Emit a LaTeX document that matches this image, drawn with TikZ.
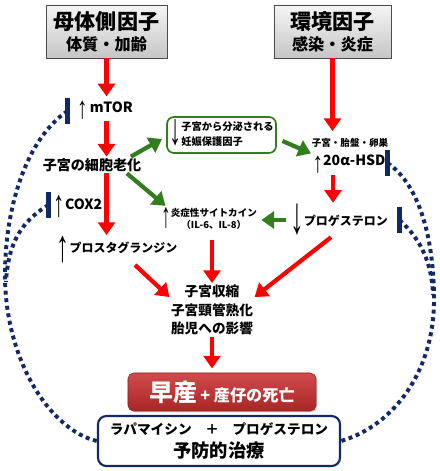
\documentclass[tikz,border=0pt]{standalone}
\usepackage{fontspec}
\setmainfont{Noto Sans CJK JP}
\newfontfamily\arrowfont{Liberation Sans}
\usetikzlibrary{arrows.meta,shadows}
\definecolor{navy}{RGB}{20,40,100}
\definecolor{leaf}{RGB}{50,125,30}
\definecolor{boxred}{RGB}{200,45,45}
\newcommand{\fs}[1]{\fontsize{#1}{#1}\selectfont}
% fleche fine : taille, etirement, abaissement
\newcommand{\up}[3]{\raisebox{-#3}{\scalebox{1.15}[#2]{\arrowfont\fs{#1}↑}}}
\newcommand{\down}[3]{\raisebox{-#3}{\scalebox{1.15}[#2]{\arrowfont\fs{#1}↓}}}
\begin{document}
\begin{tikzpicture}[x=0.025cm, y=-0.025cm, font=\bfseries,
	factor/.style={draw=gray!60!black, top color=gray!8, bottom color=gray!45, minimum width=#1, minimum height=1.325cm, align=center, inner sep=2pt, drop shadow={opacity=0.35, shadow xshift=1pt, shadow yshift=-1pt}},
	redarrow/.style={-{Triangle[width=12pt,length=9pt]}, red, line width=3pt},
	greenarrow/.style={-{Triangle[width=12pt,length=9pt]}, leaf, line width=3pt},
	inhib/.style={navy, line width=3pt},
	feedback/.style={navy, line width=2.8pt, dash pattern=on 2.8pt off 2.6pt},
	lbl/.style={inner sep=1pt}]
	\useasboundingbox[fill=white] (0,0) rectangle (439,471);
	% facteurs
	\node[factor=3.025cm] (mother) at (106.5,31.5) {{\fs{15}母体側因子}\\[3pt]{\fs{11.5}体質・加齢}};
	\node[factor=2.925cm] (env) at (332.5,31.5) {{\fs{15}環境因子}\\[3pt]{\fs{11.5}感染・炎症}};
	% colonne gauche
	\node[lbl] (mtor) at (105,110) {\up{13}{1.7}{4pt}\,{\fs{10}mTOR}};
	\node[lbl] (senes) at (92,165) {\fs{10}子宮の細胞老化};
	\node[lbl] (cox) at (78,207) {\up{14}{1.9}{5.5pt}{\fs{10}COX2}};
	\node[lbl] (prosta) at (117,250) {\up{16}{2}{6.8pt}{\fs{8.5}プロスタグランジン}};
	% colonne droite
	\node[lbl] (organ) at (350,143) {\fs{6.8}子宮・胎盤・卵巣};
	\node[lbl] (hsd) at (349,164) {\up{13}{1.6}{4.5pt}{\fs{10}20α-HSD}};
	\node[lbl] (prog) at (339,220) {\down{17}{2.2}{5.7pt}{\fs{8.5}プロゲステロン}};
	% milieu
	\node[draw=leaf, line width=1.2pt, rounded corners=5pt, minimum width=2.725cm, minimum height=0.9cm, inner sep=1pt] (protect) at (221.5,135)
		{\fs{7.3}\down{15}{2.1}{5.3pt}\def\arraystretch{1.45}\begin{tabular}{@{}l@{}}子宮から分泌される\\妊娠保護因子\end{tabular}};
	\node[lbl] (cyto) at (209,220)
		{\fs{6.8}\up{12}{2.1}{3.5pt}\def\arraystretch{1.3}\begin{tabular}{@{}c@{}}炎症性サイトカイン\\（IL-6、IL-8）\end{tabular}};
	\node[lbl, align=center, font=\fs{9.7}\bfseries] (effect) at (212,310) {子宮収縮\\[3.6pt]子宮頸管熟化\\[3.6pt]胎児への影響};
	% issue
	\node[draw=boxred!70!black, rounded corners=4pt, top color=boxred!85!white, bottom color=boxred!85!black, minimum width=4.7cm, minimum height=0.95cm, text=white, drop shadow={opacity=0.35, shadow xshift=1pt, shadow yshift=-1pt}] (birth) at (222,392)
		{{\fs{17}早産}\ {\fs{11.5}+ 産仔の死亡}};
	\node[draw=navy, line width=1.5pt, fill=white, rounded corners=6pt, minimum width=6.05cm, minimum height=1.25cm, align=center, inner sep=1pt] (treat) at (219,441)
		{{\fs{9.7}ラパマイシン\quad ＋\quad プロゲステロン}\\[4pt]{\fs{13}予防的治療}};
	% barres d'inhibition
	\coordinate (barA) at (67.5,111);
	\coordinate (barB) at (48.5,205);
	\coordinate (barC) at (387.5,163);
	\coordinate (barD) at (399.5,220);
	\draw[feedback] (barA) .. controls (25,140) and (5,210) .. (5,275) .. controls (5,360) and (50,430) .. (treat.west);
	\draw[feedback] (barB) .. controls (20,222) and (8,245) .. (6,282);
	\draw[feedback] (barC) .. controls (420,185) and (434,240) .. (434,300) .. controls (434,370) and (395,425) .. (treat.east);
	\draw[feedback] (barD) .. controls (422,240) and (432,265) .. (433,295);
	\foreach \b in {barA,barB,barC,barD}
		\draw[inhib] (\b) +(0,-13) -- +(0,13);
	% fleches rouges
	\draw[redarrow, shorten >=2pt] (mother.south) -- (mother.south |- mtor.north);
	\draw[redarrow] (mother.south |- mtor.south) -- (mother.south |- senes.north);
	\draw[redarrow] (mother.south |- senes.south) -- (mother.south |- prosta.north);
	\draw[redarrow, shorten >=4pt] (env.south) -- (env.south |- organ.north);
	\draw[redarrow] ([xshift=-0.4cm]hsd.south) -- ([xshift=-0.4cm]hsd.south |- prog.north);
	\draw[redarrow] ([xshift=-0.2cm]prog.south) -- ([yshift=-0.35cm]effect.north east);
	\draw[redarrow] ([xshift=0.45cm]prosta.south) -- ([yshift=-0.35cm]effect.north west);
	\draw[redarrow, shorten <=4pt] (cyto.south -| effect.north) -- (effect.north);
	\draw[redarrow, shorten >=3pt] (effect.south) -- (effect.south |- birth.north);
	% fleches vertes
	\draw[greenarrow] ([xshift=-0.3cm]senes.north east) -- ([xshift=-3pt,yshift=-0.1cm]protect.west);
	\draw[greenarrow] ([xshift=4pt,yshift=-0.15cm]protect.east) -- (hsd.north west);
	\draw[greenarrow] ([xshift=-0.4cm]senes.south east) -- ([xshift=0.15cm]cyto.north west);
	\draw[greenarrow, shorten <=2pt, shorten >=2pt] (prog.west) -- (prog.west -| cyto.east);
\end{tikzpicture}
\end{document}
